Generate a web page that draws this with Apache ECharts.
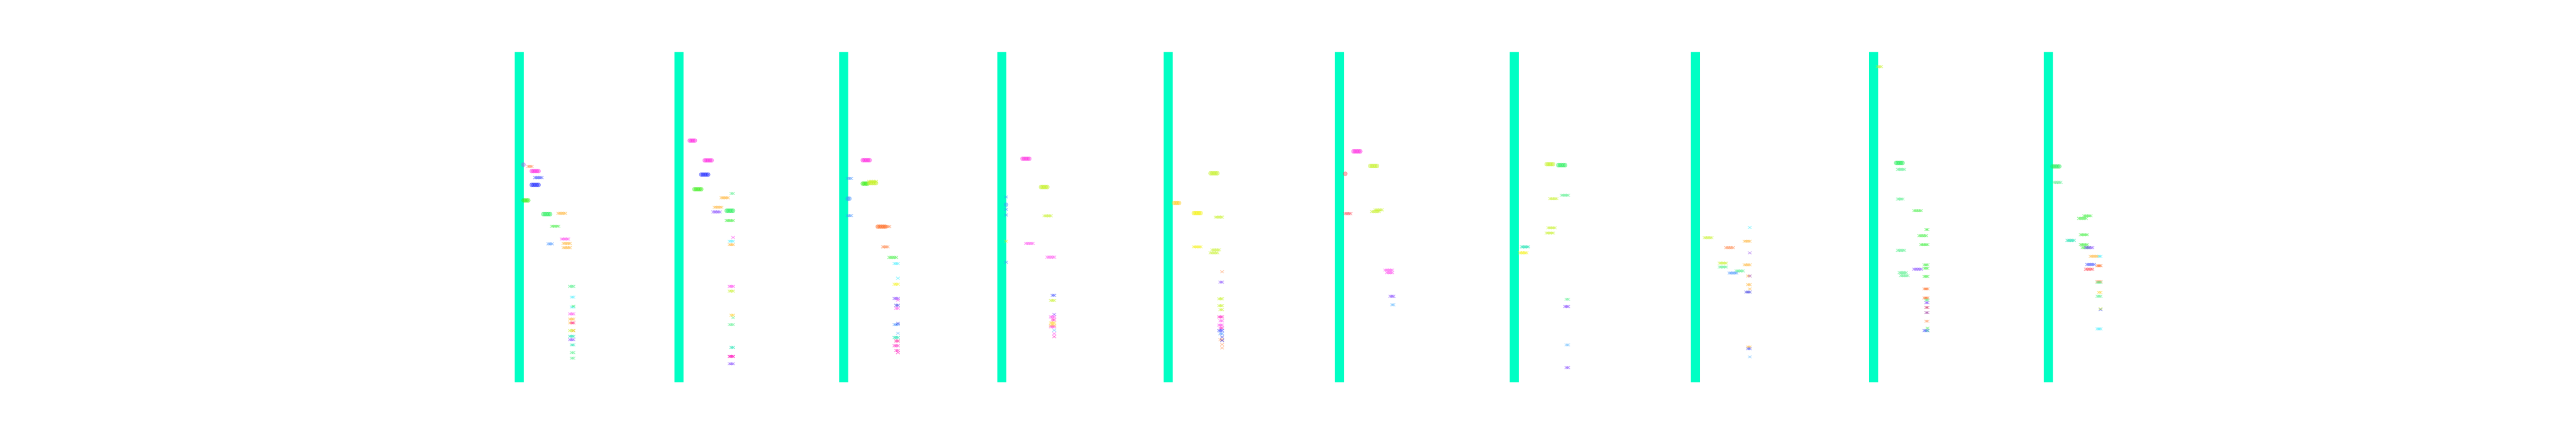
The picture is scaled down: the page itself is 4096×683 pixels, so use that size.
<!DOCTYPE html>
<html>
<head>
<meta charset="utf-8">
<script src="https://cdn.jsdelivr.net/npm/echarts@6/dist/echarts.min.js"></script>
<style>html,body{margin:0;padding:0;background:#fff}#c{width:4096px;height:683px}</style>
</head>
<body>
<div id="c"></div>
<script>
// Panel bar positions (x values) and bar extent (y values, axis runs downward)
const panelCenters = [1209.5, 1581.5, 1965, 2333.5, 2721, 3120, 3527, 3949, 4364, 4771];
const barTop = 121;
const barBottom = 889;

// Marks per panel: [first offset, last offset, y, shape ('o' circle / 'x' cross), colour key]
const panel1 = [
  [9.8,9.8,383,'o','violet'],[21,29,387,'x','orange'],[29,45,398,'o','magenta'],[37,52,413,'x','blueX'],
  [29,45,430,'o','blue'],[10,21,466,'o','lime'],[56,72,498,'o','green'],[91,107,496,'x','amber'],
  [76,91,526,'x','greenX'],[68,76,567,'x','sky'],[99,114,556,'x','pink'],[103,118,566,'x','amber'],
  [103,118,576,'x','amber'],[118,126,666,'x','mint'],[122,126,691,'x','cyan'],[122,126,714,'x','cyan'],
  [126,126,712,'x','greenX'],[118,126,730,'x','pink'],[118,126,742,'x','amber'],[118,126,751,'x','amber'],
  [122,126,751,'x','hotpink'],[118,126,769,'x','yellowgreen'],[126,126,769,'x','amber'],[118,126,782,'x','teal'],
  [118,126,790,'x','purple'],[122,126,802,'x','teal'],[122,126,820,'x','mint'],[122,126,833,'x','mint']
];
const panel2 = [
  [25,37,327,'o','magenta'],[60,76,373,'o','magenta'],[52,68,406,'o','blue'],[36,52,440,'o','lime'],
  [122,126,450,'x','mint'],[99,114,460,'x','amber'],[83,99,482,'x','amber'],[80,95,493,'x','purple'],
  [111,126,490,'o','green'],[111,126,513,'x','greenX'],[126,126,552,'x','pink'],[118,126,561,'x','cyan'],
  [118,126,569,'x','amber'],[118,126,666,'x','pink'],[118,126,677,'x','yellowgreen'],[122,126,733,'x','gold'],
  [126,126,739,'x','mint'],[118,126,755,'x','mint'],[122,126,808,'x','teal'],[118,126,829,'x','hotpink'],
  [118,126,829,'x','hotpink'],[118,126,846,'x','purple']
];
const panel3 = [
  [44.5,60.5,372.5,'o','magenta'],[9.5,17.5,415,'x','sky'],[44.5,55.5,427,'o','lime'],[59.5,75.5,426,'o','yellowgreen'],
  [59.5,75.5,422,'x','yellowgreen'],[9.5,13.5,462,'o','sky'],[9.5,17.5,501.5,'x','sky'],[79.5,97,527,'o','orangered'],
  [95,106.5,527,'x','orange'],[91.5,102.5,574,'x','orange'],[106.5,122.5,598.5,'x','greenX'],[118.5,126.5,613,'x','cyan'],
  [126.5,126.5,647,'x','cyan'],[118.5,126.5,661,'x','yellow'],[118.5,126.5,694,'x','purple'],[126.5,126.5,698,'x','pink'],
  [122.5,126.5,710,'x','navy'],[122.5,126.5,717,'x','pink'],[118.5,126.5,755,'x','sky'],[126.5,126.5,752,'x','navy'],
  [126.5,126.5,775,'x','lightblue'],[118.5,126.5,785,'x','teal'],[122.5,126.5,793,'x','orange'],[122.5,126.5,793,'x','pink'],
  [118.5,126.5,804,'x','hotpink'],[122.5,126.5,815,'x','hotpink'],[126.5,126.5,820,'x','hotpink']
];
const panel4 = [
  [48,64,369,'o','magenta'],[91,106,435,'o','yellowgreen'],[10,10,458,'x','sky'],[10,10,476,'o','sky'],
  [10,10,487,'x','sky'],[10,10,500,'x','sky'],[99,114,502,'x','yellowgreen'],[10,10,561,'x','yellow'],
  [56,72,566,'x','pink'],[10,10,610,'x','sky'],[106,122,598,'x','pink'],[118,122,687,'x','blueX'],
  [114,122,699,'x','yellowgreen'],[122,122,731,'x','purple'],[114,122,737,'x','pink'],[118,122,744,'x','hotpink'],
  [114,122,751,'x','gold'],[114,122,757,'x','gold'],[114,122,760,'x','pink'],[122,122,768,'x','lightblue'],
  [122,122,776,'x','pink'],[122,122,783,'x','hotpink']
];
const panel5 = [
  [98.5,114.5,403,'o','yellowgreen'],[13.5,25.5,472,'o','gold'],[59.5,75.5,495.5,'o','yellow'],[110.5,125.5,505,'x','yellowgreen'],
  [59.5,75.5,574,'x','yellow'],[102.5,118.5,581,'x','yellowgreen'],[98.5,114.5,588,'x','yellowgreen'],[125.5,125.5,632,'x','peach'],
  [121.5,125.5,656,'x','purple'],[118.5,125.5,695,'x','yellowgreen'],[118.5,125.5,711,'x','yellowgreen'],[121.5,125.5,720,'x','yellowgreen'],
  [118.5,125.5,737,'x','hotpink'],[121.5,125.5,746,'x','pink'],[118.5,125.5,756,'x','pink'],[121.5,125.5,763,'x','hotpink'],
  [118.5,125.5,769,'x','blueX'],[121.5,125.5,776,'x','sky'],[125.5,125.5,784,'x','navy'],[121.5,125.5,790,'x','peach'],
  [125.5,125.5,792,'x','navy'],[125.5,125.5,801,'x','peach'],[125.5,125.5,809,'x','peach']
];
const panel6 = [
  [32.5,48.5,352,'o','magenta'],[71.5,87.5,386,'o','yellowgreen'],[13.5,13.5,404,'o','red'],[13.5,25.5,497,'x','red'],
  [75.5,91.5,492,'x','yellowgreen'],[83.5,98.5,488,'x','yellowgreen'],[106.5,122.5,628,'x','pink'],[110.5,122.5,634,'x','pink'],
  [118.5,125.5,689,'x','purple'],[122.5,125.5,709,'x','lightblue']
];
const panel7 = [
  [75.5,90.5,382,'o','yellowgreen'],[102.5,118.5,384,'o','green'],[83.5,98.5,462,'x','yellowgreen'],[110.5,125.5,454,'x','mint'],
  [79.5,94.5,530,'x','yellowgreen'],[75.5,90.5,542,'x','yellowgreen'],[17.5,32.5,574,'x','teal'],[13.5,28.5,588,'x','yellow'],
  [121.5,125.5,696,'x','mint'],[118.5,125.5,713,'x','purple'],[121.5,125.5,802,'x','lightblue'],[121.5,125.5,855,'x','purple']
];
const panel8 = [
  [126.5,126.5,529,'x','cyan'],[21.5,37.5,553,'x','yellowgreen'],[114.5,126.5,561,'x','amber'],[71.5,87.5,576,'x','orange'],
  [126.5,126.5,588,'x','lavender'],[56.5,71.5,612,'x','yellowgreen'],[56.5,71.5,621,'x','mint'],[114.5,126.5,616,'x','amber'],
  [95.5,110.5,630,'x','mint'],[79.5,95.5,635,'x','sky'],[122.5,122.5,642,'x','amber'],[126.5,126.5,642,'x','plum'],
  [122.5,126.5,662,'x','amber'],[126.5,126.5,672,'x','amber'],[118.5,126.5,679,'x','navy'],[122.5,126.5,807,'x','amber'],
  [122.5,126.5,811,'x','blueX'],[126.5,126.5,830,'x','lightblue']
];
const panel9 = [
  [9.5,17.5,155,'x','yellowgreen'],[52.5,67.5,379,'o','green'],[56.5,71.5,394,'x','mint'],[56.5,67.5,463,'x','mint'],
  [94.5,110.5,490,'x','greenX'],[122.5,125.5,534,'x','greenX'],[106.5,122.5,548,'x','greenX'],[110.5,125.5,569,'x','greenX'],
  [56.5,71.5,582,'x','mint'],[94.5,110.5,626,'x','purple'],[118.5,125.5,616,'x','greenX'],[118.5,125.5,624,'x','greenX'],
  [60.5,75.5,634,'x','mint'],[63.5,79.5,641,'x','mint'],[118.5,125.5,643,'x','greenX'],[118.5,125.5,672,'x','orangered'],
  [118.5,125.5,693,'x','orangered'],[122.5,125.5,698,'x','mint'],[122.5,125.5,704,'x','purple'],[122.5,125.5,715,'x','crimson'],
  [122.5,125.5,727,'x','plum'],[122.5,125.5,747,'x','peach'],[125.5,125.5,763,'x','greenX'],[118.5,125.5,769,'x','blueX'],
  [125.5,125.5,769,'x','mint']
];
const panel10 = [
  [9.5,25.5,387,'o','green'],[13.5,28.5,424,'x','mint'],[71.5,87.5,508,'x','greenX'],[83.5,98.5,502,'x','greenX'],
  [75.5,90.5,546,'x','greenX'],[44.5,59.5,559,'x','teal'],[75.5,90.5,569,'x','greenX'],[79.5,94.5,576,'x','greenX'],
  [87.5,102.5,576,'x','purple'],[98.5,114.5,596,'x','amber'],[118.5,121.5,596,'x','cyan'],[90.5,106.5,615,'x','blueX'],
  [114.5,121.5,618,'x','orangered'],[87.5,102.5,626,'x','red'],[114.5,121.5,655,'x','orange'],[114.5,121.5,657,'x','mint'],
  [117.5,121.5,680,'x','gold'],[114.5,121.5,689,'x','mint'],[121.5,121.5,720,'x','blueX'],[121.5,121.5,718,'x','yellowgreen'],
  [114.5,121.5,765,'x','cyan']
];
const panels = [panel1, panel2, panel3, panel4, panel5, panel6, panel7, panel8, panel9, panel10];

// colour keys -> colours
const palette = {
  violet:'#b050e0', orange:'#ff8040', magenta:'#ff22e0', blueX:'#3848ff', blue:'#1520ff', lime:'#33ee10',
  green:'#20ee55', amber:'#ffb030', greenX:'#40ee40', sky:'#4090ff', pink:'#ff44ee', mint:'#50ee88',
  cyan:'#40eeff', hotpink:'#ff20c0', yellowgreen:'#c4f020', teal:'#00e0aa', purple:'#8040ff', gold:'#ffcc20',
  yellow:'#f4f000', navy:'#3030e0', lightblue:'#60b8ff', peach:'#ff9a60', red:'#ff4050', orangered:'#ff6010',
  crimson:'#d03060', plum:'#a040a0', lavender:'#a060ee'
};
const barColor = '#00ffc4';

// Build series data
const barData = panelCenters.map(c => [c, barTop, barBottom]);
const markData = [];
const markInfo = [];
panels.forEach((list, p) => {
  list.forEach(m => {
    markData.push([panelCenters[p] + m[0], panelCenters[p] + m[1], m[2]]);
    markInfo.push({shape: m[3], color: palette[m[4]]});
  });
});

const chart = echarts.init(document.getElementById('c'), null, {renderer: 'canvas'});
const STEP = 4; // spacing of repeated symbols in x units

chart.setOption({
  animation: false,
  backgroundColor: '#ffffff',
  grid: {left: 0, right: 0, top: 0, bottom: 0},
  xAxis: {type: 'value', min: 0, max: 6000, show: false},
  yAxis: {type: 'value', min: 0, max: 1000, inverse: true, show: false},
  series: [
    {
      type: 'custom',
      data: barData,
      z: 1,
      renderItem: function (params, api) {
        const w = api.size([21, 0])[0];
        const p0 = api.coord([api.value(0), api.value(1)]);
        const p1 = api.coord([api.value(0), api.value(2)]);
        return {
          type: 'rect',
          shape: {x: p0[0] - w / 2, y: p0[1], width: w, height: p1[1] - p0[1]},
          style: {fill: barColor}
        };
      }
    },
    {
      type: 'custom',
      data: markData,
      z: 2,
      renderItem: function (params, api) {
        const info = markInfo[params.dataIndex];
        const x0 = api.value(0), x1 = api.value(1), y = api.value(2);
        const n = Math.max(1, Math.round((x1 - x0) / STEP) + 1);
        const unit = api.size([1, 0])[0];
        const children = [];
        for (let i = 0; i < n; i++) {
          const xv = n === 1 ? x0 : x0 + (x1 - x0) * i / (n - 1);
          const pt = api.coord([xv, y]);
          if (info.shape === 'o') {
            children.push({
              type: 'circle',
              shape: {cx: pt[0], cy: pt[1], r: 4.6 * unit},
              style: {fill: info.color, opacity: 0.42, stroke: info.color, lineWidth: 0.8}
            });
          } else {
            const h = 4.3 * unit;
            const hy = 3.2 * unit;
            children.push({
              type: 'polyline',
              shape: {points: [[pt[0] - h, pt[1] - hy], [pt[0] + h, pt[1] + hy]]},
              style: {stroke: info.color, lineWidth: 1.1, opacity: 0.55, fill: null}
            });
            children.push({
              type: 'polyline',
              shape: {points: [[pt[0] - h, pt[1] + hy], [pt[0] + h, pt[1] - hy]]},
              style: {stroke: info.color, lineWidth: 1.1, opacity: 0.55, fill: null}
            });
          }
        }
        return {type: 'group', children: children};
      }
    }
  ]
});
</script>
</body>
</html>
